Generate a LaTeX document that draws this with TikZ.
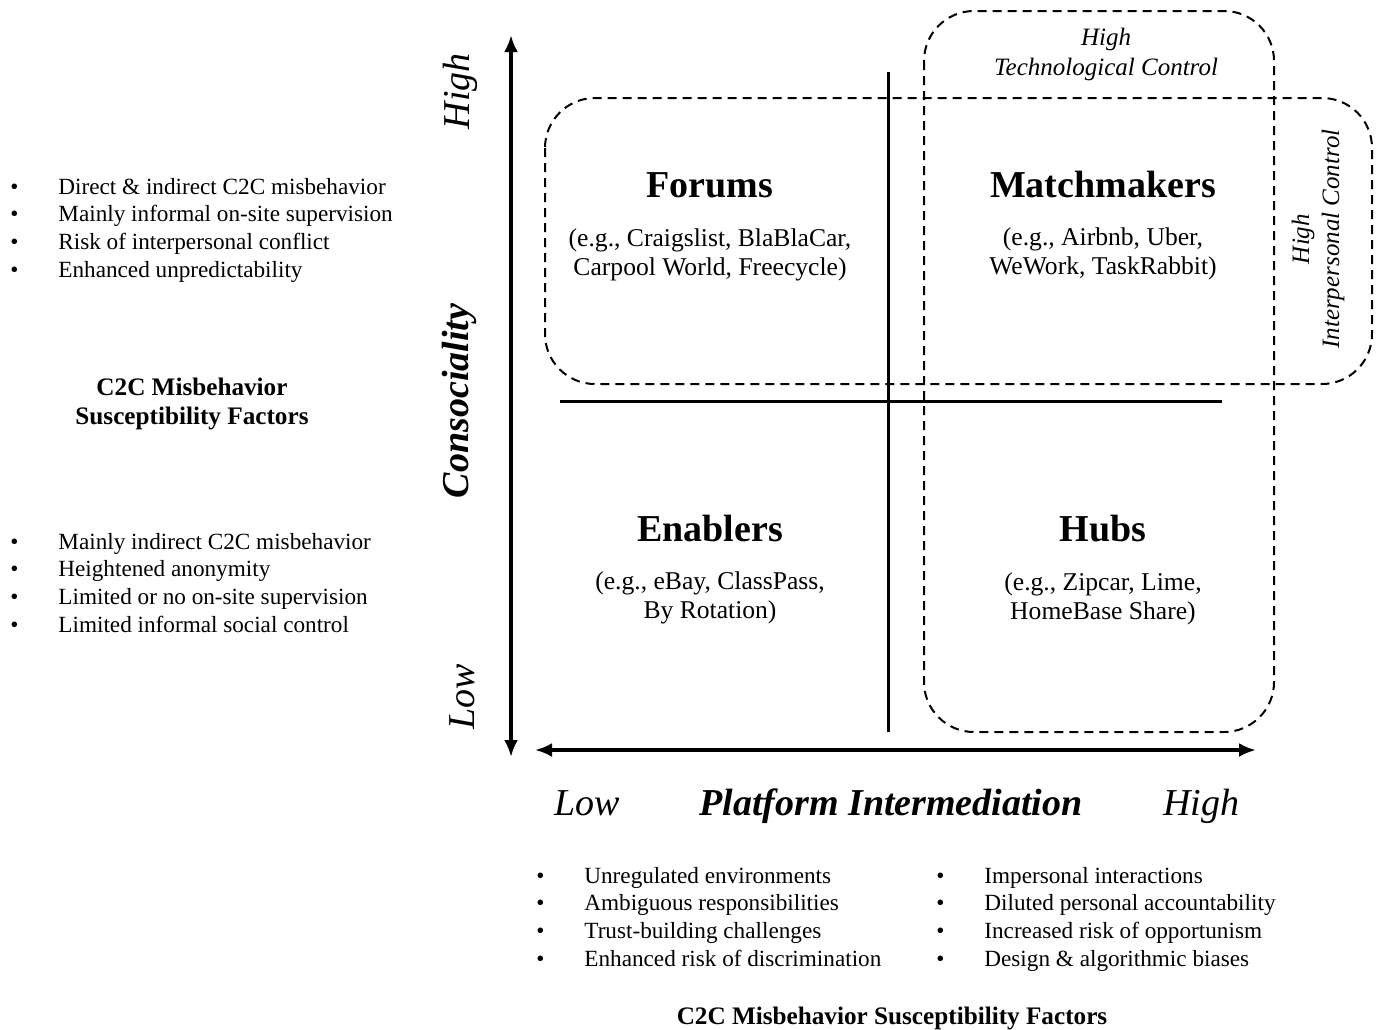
\documentclass[tikz,border=0pt]{standalone}
\usepackage{fontspec}
\setmainfont{Liberation Serif}
\usetikzlibrary{arrows.meta,positioning}

\begin{document}
\begin{tikzpicture}[x=0.5pt,y=-0.5pt,
  axis/.style = {line width=2pt,{Latex[length=8.5pt,width=7pt]}-{Latex[length=8.5pt,width=7pt]}},
  split/.style = {line width=1.5pt},
  zone/.style = {draw,line width=1pt,dash pattern=on 4.5pt off 3pt,rounded corners=25pt},
  quad/.style = {font=\fontsize{19}{22}\selectfont\bfseries,inner sep=2pt,anchor=base},
  eg/.style = {font=\fontsize{12.8}{14.5}\selectfont,align=center,inner sep=2pt},
  axlab/.style = {font=\fontsize{19}{22}\selectfont\itshape},
  ctrl/.style = {font=\fontsize{12.5}{15}\selectfont\itshape,align=center},
  factors/.style = {font=\fontsize{11.6}{13.9}\selectfont,anchor=base west,inner sep=0pt},
  heading/.style = {font=\fontsize{12.6}{14.5}\selectfont\bfseries,align=center}]
      \useasboundingbox (0,0) rectangle (1380,1029);
      % axes
      \coordinate (ytop) at (511,35);
      \coordinate (ybot) at (511,757);
      \coordinate (xleft) at (535,750);
      \coordinate (xright) at (1256,750);
      \draw[axis] (ybot) -- (ytop);
      \draw[axis] (xleft) -- (xright);
      % quadrant lines
      \coordinate (vtop) at (888,72);
      \coordinate (vbot) at (888,732);
      \coordinate (hleft) at (560,401);
      \coordinate (hright) at (1222,401);
      \draw[split] (vtop) -- (vbot);
      \draw[split] (hleft) -- (hright);
      % control zones
      \draw[zone] (545,98) rectangle (1372,384);
      \draw[zone] (924,11) rectangle (1274,732);
      \node[ctrl] (tech) at (1106,54) {High\\Technological Control};
      \node[ctrl,rotate=90] (inter) at (1318,239) {High\\Interpersonal Control};
      % quadrants
      \node[quad] (forums) at (710,197) {Forums};
      \node[eg] (forumsEx) [below=11pt of forums] {(e.g., Craigslist, BlaBlaCar,\\Carpool World, Freecycle)};
      \node[quad] (match) at (1103,197) {Matchmakers};
      \node[eg] (matchEx) [below=11pt of match] {(e.g., Airbnb, Uber,\\WeWork, TaskRabbit)};
      \node[quad] (enab) at (710,541) {Enablers};
      \node[eg] (enabEx) [below=11pt of enab] {(e.g., eBay, ClassPass,\\By Rotation)};
      \node[quad] (hubs) at (1103,541) {Hubs};
      \node[eg] (hubsEx) [below=11pt of hubs] {(e.g., Zipcar, Lime,\\HomeBase Share)};
      % axis labels
      \node[axlab,rotate=90] (yhigh) at (460,91) {High};
      \node[axlab,rotate=90] (ylow) at (462,697) {Low};
      \node[axlab,rotate=90,font=\fontsize{19}{22}\selectfont\bfseries\itshape] (ytitle) at (459,401) {Consociality};
      \node[axlab,anchor=base] (xlow) at (587,815) {Low};
      \node[axlab,anchor=base,font=\fontsize{19}{22}\selectfont\bfseries\itshape] (xtitle) at (891,815) {Platform Intermediation};
      \node[axlab,anchor=base] (xhigh) at (1201,815) {High};
      % susceptibility factors
      \node[factors] (leftTop) at (10,194) {\begin{tabular}[t]{@{}p{24pt}@{}l@{}}
        \textbullet & Direct \& indirect C2C misbehavior\\
        \textbullet & Mainly informal on-site supervision\\
        \textbullet & Risk of interpersonal conflict\\
        \textbullet & Enhanced unpredictability
      \end{tabular}};
      \node[heading] (leftHead) at (192,404) {C2C Misbehavior\\Susceptibility Factors};
      \node[factors] (leftBot) at (10,549) {\begin{tabular}[t]{@{}p{24pt}@{}l@{}}
        \textbullet & Mainly indirect C2C misbehavior\\
        \textbullet & Heightened anonymity\\
        \textbullet & Limited or no on-site supervision\\
        \textbullet & Limited informal social control
      \end{tabular}};
      \node[factors] (lowList) at (536,883) {\begin{tabular}[t]{@{}p{24pt}@{}l@{}}
        \textbullet & Unregulated environments\\
        \textbullet & Ambiguous responsibilities\\
        \textbullet & Trust-building challenges\\
        \textbullet & Enhanced risk of discrimination
      \end{tabular}};
      \node[factors] (highList) at (936,883) {\begin{tabular}[t]{@{}p{24pt}@{}l@{}}
        \textbullet & Impersonal interactions\\
        \textbullet & Diluted personal accountability\\
        \textbullet & Increased risk of opportunism\\
        \textbullet & Design \& algorithmic biases
      \end{tabular}};
      \node[heading,anchor=base] (bottomHead) at (892,1024) {C2C Misbehavior Susceptibility Factors};
    \end{tikzpicture}
\end{document}
